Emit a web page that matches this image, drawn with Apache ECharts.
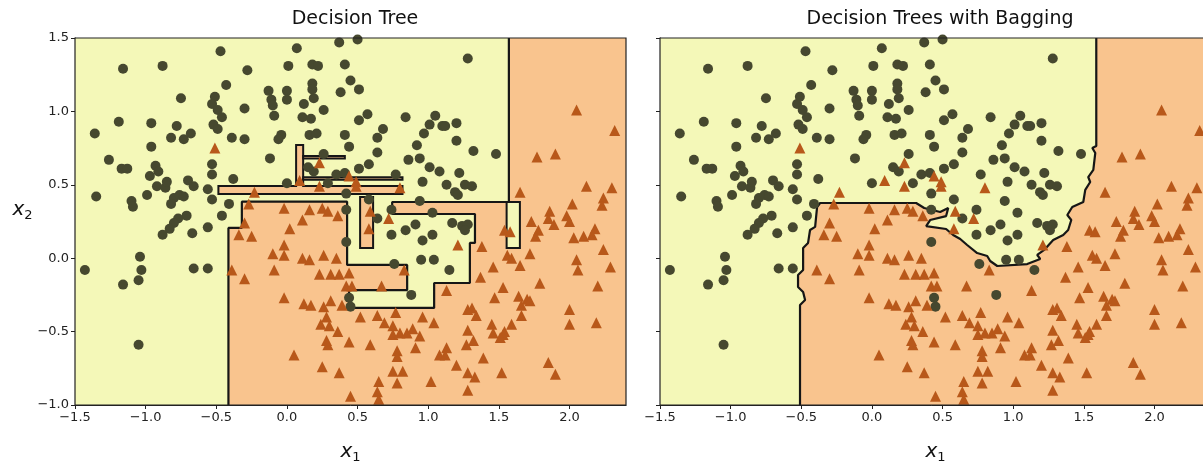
<!DOCTYPE html>
<html><head><meta charset="utf-8">
<script src="https://cdn.jsdelivr.net/npm/echarts@6/dist/echarts.min.js"></script>
<style>html,body{margin:0;padding:0;background:#fff}#c{width:1203px;height:465px}</style>
</head><body><div id="c"></div>
<script>
const xTicks = [-1.5,-1.0,-0.5,0.0,0.5,1.0,1.5,2.0];
const yTicks = [-1.0,-0.5,0.0,0.5,1.0,1.5];
const xRange = [-1.5, 2.4];
const yRange = [-1.0, 1.5];
const titles = ['Decision Tree','Decision Trees with Bagging'];

const circles = [
[-0.47,1.41],[-1.16,1.29],[-0.88,1.31],[-0.28,1.28],[-0.43,1.18],[-0.75,1.09],[-0.51,1.10],[-0.53,1.05],[-0.49,1.01],[-0.46,0.96],[-0.30,1.02],[-1.19,0.93],[-0.96,0.92],[-1.36,0.85],[-0.78,0.90],[-0.82,0.82],[-0.73,0.81],[-0.68,0.85],[-0.52,0.91],[-0.49,0.88],[-0.39,0.82],[-0.30,0.81],[-0.96,0.76],
[0.37,1.47],[0.50,1.49],[0.07,1.43],[0.01,1.31],[0.18,1.32],[0.22,1.31],[0.41,1.32],[0.18,1.19],[0.45,1.21],[0.51,1.15],[0.38,1.13],[-0.13,1.14],[0.00,1.14],[0.00,1.08],[-0.11,1.08],[0.18,1.15],[0.19,1.09],[-0.10,1.04],[-0.09,0.97],[0.12,1.05],[0.26,1.01],[0.11,0.96],[0.17,0.95],[0.51,0.94],[0.57,0.98],[0.84,0.96],[1.05,0.97],[1.01,0.91],[1.10,0.90],[-0.04,0.84],[-0.06,0.81],[0.16,0.84],[0.21,0.85],[0.41,0.84],[0.44,0.76],[0.68,0.88],[0.64,0.82],[0.97,0.85],[0.92,0.77],[-0.12,0.68],[0.64,0.72],[0.86,0.67],[0.94,0.68],[0.26,0.71],
[1.28,1.36],[1.12,0.90],[1.20,0.92],[1.20,0.80],[1.32,0.73],[1.48,0.71],
[-1.26,0.67],[-1.17,0.61],[-1.13,0.61],[-0.93,0.63],[-0.91,0.59],[-0.97,0.56],[-0.92,0.49],[-0.86,0.48],[-0.85,0.52],[-0.70,0.53],[-0.66,0.49],[-0.53,0.64],[-0.53,0.57],[-0.38,0.54],[-1.35,0.42],[-1.10,0.39],[-1.09,0.35],[-0.99,0.43],[-0.80,0.41],[-0.76,0.43],[-0.73,0.42],[-0.82,0.37],[-0.56,0.47],[-0.53,0.40],[-0.41,0.37],[-0.46,0.29],[-0.71,0.29],[-0.77,0.27],[-0.80,0.24],[-0.83,0.20],[-0.88,0.16],[-0.67,0.17],[-0.56,0.21],[-1.04,0.01],[-1.03,-0.08],[-1.05,-0.15],[-1.43,-0.08],[-0.66,-0.07],[-0.56,-0.07],[-1.16,-0.18],
[0.15,0.62],[0.19,0.59],[0.35,0.57],[0.41,0.58],[0.51,0.61],[0.58,0.64],[0.77,0.57],[1.01,0.62],[1.08,0.59],[0.96,0.52],[0.00,0.51],[0.29,0.51],[0.42,0.44],[0.58,0.40],[0.74,0.33],[0.94,0.39],[1.03,0.31],[0.84,0.19],[0.91,0.23],[0.74,0.16],[1.03,0.16],[0.96,0.12],[0.64,0.27],[0.42,0.33],[0.42,0.11],[0.95,-0.01],[1.04,-0.01],[0.76,-0.04],
[1.22,0.58],[1.26,0.50],[1.31,0.49],[1.13,0.50],[1.19,0.45],[1.21,0.43],[1.17,0.24],[1.24,0.22],[1.28,0.23],[1.26,0.19],[1.15,-0.08],
[-1.05,-0.59],[0.44,-0.27],[0.45,-0.33],[0.88,-0.25]
];

const triangles = [
[-0.51,0.75],
[2.05,1.01],[2.32,0.87],[1.77,0.69],[1.90,0.71],
[-0.27,0.37],[-0.30,0.24],[-0.34,0.16],[-0.25,0.15],[-0.39,-0.08],[-0.30,-0.14],[-0.23,0.45],
[0.23,0.65],[0.09,0.53],[0.23,0.49],[0.44,0.56],[0.49,0.52],[0.49,0.49],[0.80,0.48],[-0.02,0.34],[0.16,0.33],[0.25,0.34],[0.29,0.32],[0.36,0.29],[0.11,0.26],[0.02,0.20],[-0.02,0.09],[-0.10,0.03],[-0.02,0.02],[0.11,0.00],[0.16,-0.01],[0.26,0.02],[0.35,0.00],[-0.09,-0.08],[0.23,-0.11],[0.31,-0.11],[0.37,-0.11],[0.44,-0.10],[0.59,0.32],[0.58,0.20],[0.72,0.27],[0.83,-0.08],
[1.65,0.45],[2.12,0.49],[2.30,0.48],[2.24,0.41],[2.23,0.36],[2.02,0.37],[1.86,0.32],[1.85,0.27],[1.98,0.29],[2.00,0.25],[1.73,0.25],[1.78,0.19],[1.76,0.15],[1.89,0.23],[2.03,0.14],[2.10,0.15],[2.16,0.16],[2.18,0.20],[1.54,0.19],[1.58,0.18],[1.38,0.08],[1.21,0.09],[1.72,0.03],[1.56,0.02],[1.59,0.00],[2.24,0.06],[2.05,-0.01],[2.06,-0.08],[2.29,-0.06],[1.46,-0.06],[1.65,-0.05],[1.37,-0.13],[1.79,-0.17],
[-0.02,-0.27],[0.12,-0.31],[0.17,-0.32],[0.26,-0.33],[0.31,-0.29],[0.39,-0.32],[0.28,-0.40],[0.24,-0.45],[0.30,-0.46],[0.36,-0.50],[0.28,-0.56],[0.29,-0.59],[0.44,-0.57],[0.05,-0.66],[0.59,-0.59],[0.52,-0.40],[0.64,-0.39],[0.69,-0.44],[0.77,-0.37],[0.75,-0.46],[0.75,-0.52],[0.80,-0.51],[0.85,-0.51],[0.89,-0.48],[0.96,-0.40],[1.04,-0.44],[0.94,-0.53],[0.91,-0.61],[0.78,-0.63],[0.78,-0.67],[1.08,-0.66],[0.25,-0.74],[0.37,-0.78],[0.75,-0.77],[0.82,-0.77],[0.65,-0.84],[0.78,-0.85],[0.64,-0.91],[0.65,-0.96],[1.02,-0.84],[0.45,-0.94],[0.42,-0.19],[0.46,-0.19],[0.67,-0.19],
[1.13,-0.22],[1.53,-0.20],[2.20,-0.19],[1.47,-0.27],[1.64,-0.26],[1.70,-0.28],[1.66,-0.32],[1.72,-0.29],[1.66,-0.39],[1.28,-0.35],[1.31,-0.34],[1.34,-0.39],[1.45,-0.45],[1.46,-0.51],[1.53,-0.52],[1.54,-0.50],[1.51,-0.54],[1.59,-0.45],[1.28,-0.49],[1.32,-0.56],[1.27,-0.59],[1.13,-0.61],[1.12,-0.66],[1.39,-0.68],[1.20,-0.73],[1.28,-0.78],[1.33,-0.81],[1.52,-0.78],[1.85,-0.71],[1.90,-0.79],[2.00,-0.35],[2.00,-0.45],[2.19,-0.44],[1.28,-0.90]
];

// Decision tree: boundary of the yellow (class 0) region, from bottom edge to top edge
const treeBoundary = [
[-0.414,-1.0],[-0.414,0.206],[-0.319,0.206],[-0.319,0.385],[0.426,0.385],[0.426,-0.046],[0.851,-0.046],[0.851,-0.217],[0.440,-0.217],[0.440,-0.339],[1.042,-0.339],[1.042,-0.169],[1.295,-0.169],[1.295,0.104],[1.331,0.104],[1.331,0.301],[0.745,0.301],[0.745,0.383],[1.571,0.383],[1.571,1.5]
];
const treeOrangeIslands = [
[[-0.485,0.437],[0.818,0.437],[0.818,0.492],[0.115,0.492],[0.115,0.771],[0.065,0.771],[0.065,0.492],[-0.485,0.492]],
[[0.115,0.534],[0.818,0.534],[0.818,0.552],[0.115,0.552]],
[[0.115,0.680],[0.410,0.680],[0.410,0.697],[0.115,0.697]],
[[0.518,0.417],[0.610,0.417],[0.610,0.069],[0.518,0.069]]
];
const treeYellowIslands = [
[[1.555,0.383],[1.649,0.383],[1.649,0.069],[1.555,0.069]]
];
// Bagging ensemble: boundary of the yellow region, from bottom edge to top edge
const bagBoundary = [
[-0.509,-1.0],[-0.509,-0.319],[-0.473,-0.285],[-0.487,-0.230],[-0.523,-0.196],[-0.523,-0.114],[-0.487,-0.080],[-0.487,0.069],[-0.452,0.104],[-0.438,0.192],[-0.402,0.213],[-0.388,0.349],[-0.367,0.376],[0.313,0.376],[0.370,0.342],[0.483,0.315],[0.540,0.342],[0.525,0.287],[0.412,0.260],[0.384,0.219],[0.525,0.199],[0.575,0.158],[0.625,0.131],[0.674,0.090],[0.745,0.035],[0.816,0.015],[0.837,-0.019],[0.887,-0.053],[1.099,-0.040],[1.191,-0.005],[1.170,0.022],[1.219,0.056],[1.283,0.124],[1.354,0.158],[1.389,0.192],[1.411,0.260],[1.383,0.294],[1.418,0.349],[1.496,0.383],[1.510,0.465],[1.545,0.519],[1.531,0.553],[1.567,0.601],[1.581,0.717],[1.560,0.751],[1.588,0.764],[1.588,1.5]
];

const YELLOW = '#f4f8b8', ORANGE = '#f9c48e', CIRC = '#46482f', TRI = '#b8581a', LINE = '#161616';
const FONT = 'DejaVu Sans';

function polySeries(idx, polys, fill, stroke, z) {
  return {
    type: 'custom', xAxisIndex: idx, yAxisIndex: idx, z: z, silent: true, animation: false,
    data: polys.map((p, i) => [p[0][0], p[0][1], i]),
    renderItem: (params, api) => {
      const poly = polys[params.dataIndex];
      return { type: 'polygon', shape: { points: poly.map(pt => api.coord(pt)) },
        style: { fill: fill, stroke: stroke || null, lineWidth: 2 } };
    }
  };
}
function frameSeries(idx) {
  return {
    type: 'custom', xAxisIndex: idx, yAxisIndex: idx, z: 20, silent: true, animation: false,
    data: [[xRange[0], yRange[0]]],
    renderItem: (params, api) => {
      const a = api.coord([xRange[0], yRange[1]]), b = api.coord([xRange[1], yRange[0]]);
      return { type: 'rect', shape: { x: a[0], y: a[1], width: b[0] - a[0], height: b[1] - a[1] },
        style: { fill: null, stroke: '#222', lineWidth: 1.2 } };
    }
  };
}
function lineSeries(idx, pts) {
  return { type: 'line', xAxisIndex: idx, yAxisIndex: idx, data: pts, showSymbol: false, silent: true,
    animation: false, z: 5, lineStyle: { color: LINE, width: 2.2 } };
}
function scatter(idx, pts, symbol, color, size) {
  return { type: 'scatter', xAxisIndex: idx, yAxisIndex: idx, data: pts, symbol: symbol, symbolSize: size,
    itemStyle: { color: color, opacity: 1 }, z: 10, silent: true, animation: false };
}
const fmt = v => (Math.abs(v) < 1e-9 ? '0.0' : v.toFixed(1).replace('-', '\u2212'));
function xAxis(idx) {
  return { type: 'value', gridIndex: idx, min: xRange[0], max: xRange[1],
    name: '{i|x}{s|1}', nameLocation: 'middle', nameGap: 34,
    nameTextStyle: { rich: { i: { fontFamily: FONT, fontStyle: 'italic', fontSize: 20, color: '#111' },
      s: { fontFamily: FONT, fontSize: 13, color: '#111', padding: [12, 0, 0, 0] } } },
    axisLine: { show: true, onZero: false, lineStyle: { color: '#222', width: 1 } },
    axisTick: { show: true, length: 4, customValues: xTicks, lineStyle: { color: '#222' } },
    axisLabel: { customValues: xTicks, formatter: fmt, fontFamily: FONT, fontSize: 13, color: '#222', margin: 6 },
    splitLine: { show: false } };
}
function yAxis(idx, showLabels) {
  const ax = { type: 'value', gridIndex: idx, min: yRange[0], max: yRange[1],
    axisLine: { show: true, onZero: false, lineStyle: { color: '#222', width: 1 } },
    axisTick: { show: true, length: 4, customValues: yTicks, lineStyle: { color: '#222' } },
    axisLabel: { show: showLabels, customValues: yTicks, formatter: fmt, fontFamily: FONT, fontSize: 13, color: '#222', margin: 6 },
    splitLine: { show: false } };
  if (showLabels) {
    ax.name = '{i|x}{s|2}'; ax.nameLocation = 'middle'; ax.nameGap = 42; ax.nameRotate = 0;
    ax.nameTextStyle = { padding: [0, 0, 24, 0], rich: { i: { fontFamily: FONT, fontStyle: 'italic', fontSize: 20, color: '#111' },
      s: { fontFamily: FONT, fontSize: 13, color: '#111', padding: [12, 0, 0, 0] } } };
  }
  return ax;
}

const treeYellow = treeBoundary.concat([[xRange[0], yRange[1]], [xRange[0], yRange[0]]]);
const bagYellow = bagBoundary.concat([[xRange[0], yRange[1]], [xRange[0], yRange[0]]]);

const chart = echarts.init(document.getElementById('c'), null, { renderer: 'canvas' });
chart.setOption({
  animation: false,
  backgroundColor: '#fff',
  title: [
    { text: titles[0], left: 350, top: 5, textAlign: 'center', textStyle: { fontFamily: FONT, fontSize: 19, fontWeight: 'normal', color: '#111' } },
    { text: titles[1], left: 935, top: 5, textAlign: 'center', textStyle: { fontFamily: FONT, fontSize: 19, fontWeight: 'normal', color: '#111' } }
  ],
  grid: [
    { left: 75, top: 38, width: 551, height: 367, show: true, backgroundColor: ORANGE, borderWidth: 0, outerBoundsMode: 'none', containLabel: false },
    { left: 660, top: 38, width: 551, height: 367, show: true, backgroundColor: ORANGE, borderWidth: 0, outerBoundsMode: 'none', containLabel: false }
  ],
  xAxis: [xAxis(0), xAxis(1)],
  yAxis: [yAxis(0, true), yAxis(1, false)],
  series: [
    polySeries(0, [treeYellow], YELLOW, null, 1),
    polySeries(0, treeOrangeIslands, ORANGE, LINE, 3),
    polySeries(0, treeYellowIslands, YELLOW, LINE, 3),
    lineSeries(0, treeBoundary),
    scatter(0, circles, 'circle', CIRC, 10),
    scatter(0, triangles, 'triangle', TRI, 11),
    frameSeries(0),
    polySeries(1, [bagYellow], YELLOW, null, 1),
    lineSeries(1, bagBoundary),
    scatter(1, circles, 'circle', CIRC, 10),
    scatter(1, triangles, 'triangle', TRI, 11),
    frameSeries(1)
  ]
});
</script></body></html>
